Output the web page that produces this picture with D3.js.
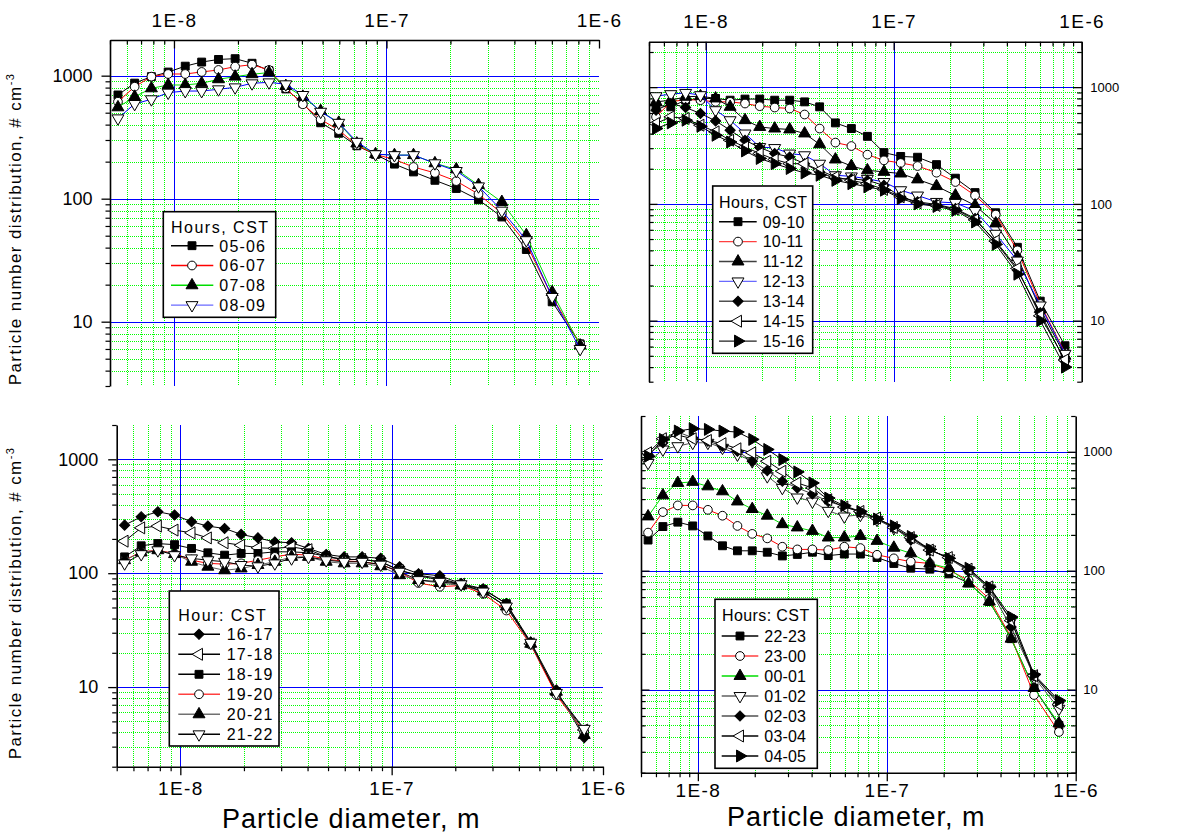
<!DOCTYPE html>
<html>
<head>
<meta charset="utf-8">
<script src="https://cdn.jsdelivr.net/npm/d3@7"></script>
<style>
  body { margin: 0; background: #fff; }
  svg text { font-family: "Liberation Sans", Arial, sans-serif; fill: #000; }
</style>
</head>
<body>
<svg width="1188" height="834"></svg>
<script>
// particle diameters (m), shared by all four panels
var diameters = [5.45e-9, 6.53e-9, 7.83e-9, 9.39e-9, 1.13e-8, 1.35e-8, 1.62e-8, 1.94e-8, 2.33e-8, 2.80e-8,
  3.36e-8, 4.04e-8, 4.90e-8, 5.96e-8, 7.25e-8, 8.88e-8, 1.09e-7, 1.34e-7, 1.69e-7, 2.13e-7,
  2.71e-7, 3.49e-7, 4.55e-7, 6.02e-7, 8.15e-7];

var xTickValues = [1e-8, 1e-7, 1e-6];
var xTickLabels = ["1E-8", "1E-7", "1E-6"];
var yTickValues = [10, 100, 1000];
var yTickLabels = ["10", "100", "1000"];

// panel 1 : morning
var hours1 = ["05-06", "06-07", "07-08", "08-09"];
var s0506 = [697, 870, 982, 1070, 1195, 1290, 1355, 1375, 1262, 1098, 780, 596, 414, 340, 269, 229, 191, 165, 141, 121, 98, 71, 38.6, 14.5, 6.6];
var s0607 = [614, 813, 982, 1032, 1032, 1072, 1113, 1184, 1229, 1113, 790, 585, 441, 361, 272, 229, 208, 181, 162, 139, 109, 76, 43, 15.9, 6.6];
var s0708 = [553, 674, 789, 840, 840, 867, 935, 982, 1027, 1060, 824, 674, 516, 414, 281, 230, 226, 226, 194, 173, 129, 94, 50.5, 17.4, 6.4];
var s0809 = [450, 589, 643, 728, 750, 750, 775, 804, 867, 883, 851, 697, 509, 414, 290, 230, 226, 226, 194, 168, 126, 80, 46, 15.9, 6.0];

// panel 2 : midday
var hours2 = ["09-10", "10-11", "11-12", "12-13", "13-14", "14-15", "15-16"];
var s0910 = [700, 678, 773, 800, 800, 773, 790, 790, 773, 773, 748, 678, 494, 442, 379, 275, 255, 251, 217, 166, 125, 84, 42.5, 14.7, 6.1];
var s1011 = [556, 748, 784, 773, 748, 748, 724, 687, 669, 656, 583, 442, 335, 313, 264, 236, 224, 211, 185, 154, 118, 81, 40, 13.9, 5.3];
var s1112 = [748, 773, 826, 837, 800, 678, 521, 456, 442, 434, 401, 324, 240, 211, 194, 188, 182, 162, 142, 118, 97, 68, 35, 12.6, 5.0];
var s1213 = [837, 871, 893, 854, 635, 521, 401, 307, 301, 270, 261, 221, 176, 172, 164, 154, 131, 118, 104, 102, 87, 55.5, 32.7, 13.5, 5.2];
var s1314 = [635, 724, 669, 595, 514, 428, 351, 304, 270, 252, 221, 188, 164, 164, 159, 144, 115, 104, 99, 91, 75, 47, 27, 11.7, 4.5];
var s1415 = [488, 556, 539, 472, 414, 351, 307, 270, 240, 221, 221, 194, 170, 159, 149, 133, 115, 102, 97, 90, 73, 48, 28, 11, 4.6];
var s1516 = [442, 494, 521, 462, 387, 339, 284, 245, 221, 201, 184, 176, 159, 149, 140, 131, 111, 100, 95, 88, 70, 45, 25, 10, 4.0];

// panel 3 : evening
var hours3 = ["16-17", "17-18", "18-19", "19-20", "20-21", "21-22"];
var s1617 = [264, 313, 346, 324, 283, 259, 247, 219, 204, 188, 185, 165, 146, 139, 139, 135, 114, 99, 95, 81, 73, 54, 24.9, 9.4, 3.6];
var s1718 = [191, 250, 259, 239, 226, 204, 185, 176, 167, 165, 170, 161, 139, 132, 132, 126, 106, 95, 87, 80, 69, 51, 24, 8.7, 4.2];
var s1819 = [139, 174, 182, 178, 165, 151, 144, 149, 149, 154, 154, 151, 141, 132, 132, 126, 106, 96, 90, 80, 72, 54, 24, 9.1, 3.9];
var s1920 = [130, 154, 159, 149, 130, 122, 120, 122, 130, 139, 147, 144, 132, 128, 126, 119, 103, 82, 76, 78, 66, 47, 23.6, 8.5, 4.0];
var s2021 = [130, 152, 159, 147, 126, 114, 106, 110, 118, 126, 139, 139, 126, 122, 122, 115, 96, 87, 82, 78, 69, 51, 24, 9.1, 3.8];
var s2122 = [122, 147, 159, 144, 135, 130, 126, 118, 115, 122, 135, 139, 130, 126, 126, 119, 103, 87, 84, 80, 69, 51, 24.5, 8.9, 4.3];

// panel 4 : night
var hours4 = ["22-23", "23-00", "00-01", "01-02", "02-03", "03-04", "04-05"];
var s2223 = [181, 235, 256, 238, 196, 162, 147, 147, 143, 133, 137, 143, 134, 138, 138, 129, 115, 105, 103, 94, 79, 55, 26.8, 10.3, 5.0];
var s2300 = [209, 311, 354, 354, 325, 290, 238, 204, 187, 159, 151, 151, 149, 159, 155, 136, 127, 119, 115, 101, 83, 58, 27.6, 9.0, 4.4];
var s0001 = [286, 430, 547, 558, 512, 465, 382, 330, 290, 246, 231, 216, 190, 190, 196, 178, 156, 140, 115, 105, 78, 55, 26.8, 10.3, 5.2];
var s0102 = [807, 1046, 1115, 1191, 1191, 1081, 949, 833, 623, 497, 413, 382, 319, 286, 295, 268, 228, 187, 151, 127, 101, 71, 38, 12.7, 6.9];
var s0203 = [949, 1191, 1465, 1314, 1229, 1115, 1012, 833, 695, 565, 497, 442, 382, 347, 309, 272, 231, 181, 149, 127, 99, 71, 33.6, 13.1, 7.8];
var s0304 = [981, 1288, 1381, 1288, 1246, 1170, 1060, 981, 833, 686, 547, 497, 395, 343, 315, 277, 231, 190, 149, 129, 103, 73, 38, 13.1, 7.5];
var s0405 = [918, 1271, 1494, 1564, 1543, 1494, 1465, 1271, 1046, 860, 677, 547, 408, 352, 315, 272, 238, 194, 151, 127, 105, 73, 40.8, 13.4, 8.1];

var svg = d3.select("svg");

// marker shapes, Origin style
var markers = {
  square:  { type: d3.symbolSquare,   size: 62, rot: 0,   fill: "#000" },
  circle:  { type: d3.symbolCircle,   size: 60, rot: 0,   fill: "#fff" },
  up:      { type: d3.symbolTriangle, size: 62, rot: 0,   fill: "#000" },
  down:    { type: d3.symbolTriangle, size: 62, rot: 180, fill: "#fff" },
  diamond: { type: d3.symbolSquare,   size: 52, rot: 45,  fill: "#000" },
  left:    { type: d3.symbolTriangle, size: 62, rot: -90, fill: "#fff" },
  right:   { type: d3.symbolTriangle, size: 62, rot: 90,  fill: "#000" }
};

function drawMarker(g, kind, cx, cy) {
  var m = markers[kind];
  g.append("path")
    .attr("d", d3.symbol().type(m.type).size(m.size)())
    .attr("transform", "translate(" + cx + "," + cy + ") rotate(" + m.rot + ")")
    .attr("fill", m.fill)
    .attr("stroke", "#000")
    .attr("stroke-width", 1);
}

var panels = [
  { x0: 110, x1: 599, y0: 40, y1: 386, yDom: [3, 1950],
    names: hours1, data: [s0506, s0607, s0708, s0809],
    marks: ["square", "circle", "up", "down"],
    colors: ["#000", "#ff0000", "#00dd00", "#0000ff"],
    legColors: ["#000", "#ff0000", "#00dd00", "#6a6aff"],
    axes: [ { side: "left", dir: "out", labels: true, pad: 9, fs: 18 },
            { side: "top", dir: "in", labels: true, pad: 13, fs: 19 } ],
    leg: { x: 163.3, y: 211.7, w: 112.4, h: 105.6, title: "Hours, CST", tx: 171, ty: 232.5,
           r0: 245.7, step: 19.8, l0: 171, l1: 213.3, sx: 192, lx: 219.3, ls: 1.2, tls: 1.5 } },
  { x0: 649, x1: 1081.7, y0: 41.7, y1: 381.7, yDom: [3, 2450],
    names: hours2, data: [s0910, s1011, s1112, s1213, s1314, s1415, s1516],
    marks: ["square", "circle", "up", "down", "diamond", "left", "right"],
    colors: ["#000", "#ff0000", "#000", "#0000ff", "#000", "#000", "#000"],
    legColors: ["#000", "#ff4040", "#404040", "#6a6aff", "#505050", "#000", "#202020"],
    axes: [ { side: "top", dir: "in", labels: true, pad: 13.5, fs: 19 },
            { side: "left", dir: "in", labels: false },
            { side: "right", dir: "in", labels: true, pad: 8.5, fs: 13 } ],
    leg: { x: 712.7, y: 186, w: 100, h: 167.3, title: "Hours, CST", tx: 719, ty: 207.5,
           r0: 221.7, step: 19.9, l0: 719, l1: 756.7, sx: 738, lx: 762.7, ls: 0.2, tls: 0.5 } },
  { x0: 116.7, x1: 603, y0: 425, y1: 766.7, yDom: [2, 2000],
    names: hours3, data: [s1617, s1718, s1819, s1920, s2021, s2122],
    marks: ["diamond", "left", "square", "circle", "up", "down"],
    colors: ["#000", "#000", "#000", "#ff0000", "#606060", "#000"],
    legColors: ["#000", "#000", "#000", "#ff4040", "#707070", "#000"],
    axes: [ { side: "left", dir: "out", labels: true, pad: 10, fs: 18 },
            { side: "bottom", dir: "out", labels: true, pad: 6, fs: 19 } ],
    leg: { x: 169.3, y: 591, w: 109.7, h: 155, title: "Hour: CST", tx: 178.3, ty: 620.7,
           r0: 634.3, step: 20, l0: 178.3, l1: 220, sx: 199, lx: 226.7, ls: 1.2, tls: 1.5 } },
  { x0: 641, x1: 1075.7, y0: 416, y1: 772.7, yDom: [2, 2000],
    names: hours4, data: [s2223, s2300, s0001, s0102, s0203, s0304, s0405],
    marks: ["square", "circle", "up", "down", "diamond", "left", "right"],
    colors: ["#000", "#ff0000", "#00dd00", "#505050", "#404040", "#000", "#000"],
    legColors: ["#000", "#ff4040", "#00dd00", "#606060", "#505050", "#000", "#000"],
    axes: [ { side: "left", dir: "in", labels: false },
            { side: "bottom", dir: "out", labels: true, pad: 2.5, fs: 19 },
            { side: "right", dir: "in", labels: true, pad: 7.5, fs: 13 } ],
    leg: { x: 715, y: 599.3, w: 102.3, h: 169, title: "Hours: CST", tx: 722, ty: 621.4,
           r0: 636, step: 20, l0: 721.7, l1: 758.3, sx: 740, lx: 764.3, ls: 0.2, tls: 0.4 } }
];

function isDecade(v) {
  var l = Math.log10(v);
  return Math.abs(l - Math.round(l)) < 1e-6;
}

// put 1px grid lines on pixel centres so they stay crisp
function snap(v) { return Math.round(v) + 0.5; }

panels.forEach(function (p) {
  var x = d3.scaleLog().domain([5e-9, 1e-6]).range([p.x0, p.x1]);
  var y = d3.scaleLog().domain(p.yDom).range([p.y1, p.y0]);
  var g = svg.append("g");
  var gx = function (d) { return snap(x(d)); };
  var gy = function (d) { return snap(y(d)); };

  // grid: green dotted minors, blue majors
  var grid = g.append("g").attr("shape-rendering", "crispEdges");
  var xt = x.ticks().filter(function (v) { return x(v) > p.x0 + 1 && x(v) < p.x1 - 1; });
  var yt = y.ticks().filter(function (v) { return y(v) < p.y1 - 1 && y(v) > p.y0 + 1; });
  grid.selectAll(".gx").data(xt.filter(function (v) { return !isDecade(v); })).enter().append("line")
    .attr("x1", gx).attr("x2", gx).attr("y1", p.y0).attr("y2", p.y1)
    .attr("stroke", "#00ff00").attr("stroke-dasharray", "1,1");
  grid.selectAll(".gy").data(yt.filter(function (v) { return !isDecade(v); })).enter().append("line")
    .attr("y1", gy).attr("y2", gy).attr("x1", p.x0).attr("x2", p.x1)
    .attr("stroke", "#00ff00").attr("stroke-dasharray", "1,1");
  grid.selectAll(".bx").data(xt.filter(isDecade)).enter().append("line")
    .attr("x1", gx).attr("x2", gx).attr("y1", p.y0).attr("y2", p.y1)
    .attr("stroke", "#0000ff");
  grid.selectAll(".by").data(yt.filter(isDecade)).enter().append("line")
    .attr("y1", gy).attr("y2", gy).attr("x1", p.x0).attr("x2", p.x1)
    .attr("stroke", "#0000ff");

  // axes
  p.axes.forEach(function (a) {
    var horiz = a.side === "top" || a.side === "bottom";
    var sc = horiz ? x : y;
    var make = { left: d3.axisLeft, right: d3.axisRight, top: d3.axisTop, bottom: d3.axisBottom }[a.side];
    var sign = a.dir === "in" ? -1 : 1;
    var pos = a.side === "left" ? "translate(" + p.x0 + ",0)" :
              a.side === "right" ? "translate(" + p.x1 + ",0)" :
              a.side === "top" ? "translate(0," + p.y0 + ")" : "translate(0," + p.y1 + ")";
    var minorVals = sc.ticks().filter(function (v) { return !isDecade(v); });
    var majorVals = horiz ? xTickValues : yTickValues;
    var labels = horiz ? xTickLabels : yTickLabels;

    var gMinor = g.append("g").attr("transform", pos)
      .call(make(sc).tickValues(minorVals).tickSize(sign * 4.5).tickSizeOuter(0).tickFormat(""));
    gMinor.select(".domain").attr("stroke-width", 1.6);
    gMinor.selectAll(".tick line").attr("stroke-width", 1.2);

    var gMajor = g.append("g").attr("transform", pos)
      .call(make(sc).tickValues(majorVals).tickSize(sign * 8.5).tickSizeOuter(0)
        .tickPadding(a.pad || 3)
        .tickFormat(function (d, i) { return a.labels ? labels[i] : ""; }));
    gMajor.select(".domain").remove();
    gMajor.selectAll(".tick line").attr("stroke-width", 1.3);
    gMajor.attr("font-family", null).attr("font-size", null);
    gMajor.selectAll(".tick text")
      .style("font-size", (a.fs || 18) + "px")
      .style("letter-spacing", horiz ? "1.4px" : "0px");
    if (a.side === "top") gMajor.selectAll(".tick text").attr("dy", "0em");
  });

  // series: line first, then markers
  var line = d3.line().x(function (d, i) { return x(diameters[i]); }).y(function (d) { return y(d); });
  p.data.forEach(function (vals, k) {
    var sg = g.append("g");
    sg.append("path").attr("d", line(vals))
      .attr("fill", "none").attr("stroke", p.colors[k]).attr("stroke-width", 1);
    vals.forEach(function (v, i) { drawMarker(sg, p.marks[k], x(diameters[i]), y(v)); });
  });

  // legend
  var L = p.leg;
  var lg = g.append("g");
  lg.append("rect").attr("x", L.x).attr("y", L.y).attr("width", L.w).attr("height", L.h)
    .attr("fill", "#fff").attr("stroke", "#000").attr("stroke-width", 1.6);
  lg.append("text").attr("x", L.tx).attr("y", L.ty).text(L.title)
    .style("font-size", "16px").style("letter-spacing", L.tls + "px");
  p.names.forEach(function (name, k) {
    var cy = L.r0 + k * L.step;
    lg.append("line").attr("x1", L.l0).attr("x2", L.l1).attr("y1", cy).attr("y2", cy)
      .attr("stroke", p.legColors[k]).attr("stroke-width", 1.4);
    drawMarker(lg, p.marks[k], L.sx, cy);
    lg.append("text").attr("x", L.lx).attr("y", cy + 5.8).text(name)
      .style("font-size", "16px").style("letter-spacing", L.ls + "px");
  });
});

// axis titles
[229, 603].forEach(function (cy) {
  var t = svg.append("text")
    .attr("transform", "translate(21," + cy + ") rotate(-90)")
    .attr("text-anchor", "middle")
    .style("font-size", "17px").style("letter-spacing", "1.4px");
  t.append("tspan").text("Particle number distribution, # cm");
  t.append("tspan").attr("dy", -7).style("font-size", "11px").text("-3");
});

[[222, 828], [727, 826]].forEach(function (pt) {
  svg.append("text").attr("x", pt[0]).attr("y", pt[1])
    .style("font-size", "27px").style("letter-spacing", "1px")
    .text("Particle diameter, m");
});
</script>
</body>
</html>
